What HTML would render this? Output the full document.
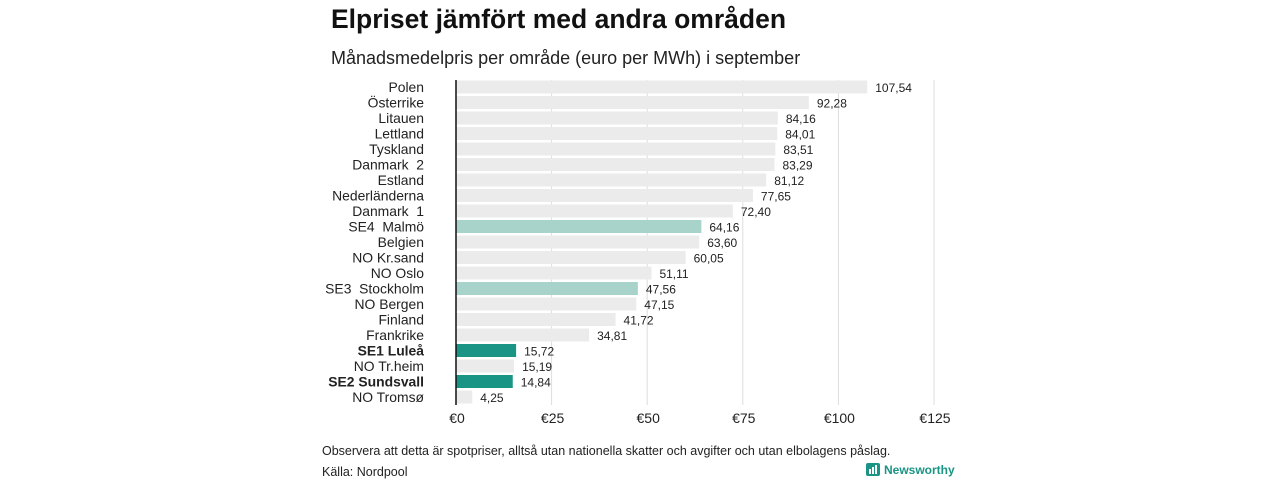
<!DOCTYPE html>
<html><head><meta charset="utf-8"><style>
body{margin:0;background:#fff;width:1280px;height:480px;overflow:hidden;font-family:"Liberation Sans",sans-serif;}
</style></head><body>
<svg width="1280" height="480" xmlns="http://www.w3.org/2000/svg" font-family="Liberation Sans, sans-serif">
<text x="331" y="28" font-size="26.5" font-weight="bold" fill="#111">Elpriset jämfört med andra områden</text>
<text x="331" y="64" font-size="18" fill="#222">Månadsmedelpris per område (euro per MWh) i september</text>
<g id="grid"></g><g id="bars"></g>
<text x="322" y="455" font-size="12.5" fill="#222">Observera att detta är spotpriser, alltså utan nationella skatter och avgifter och utan elbolagens påslag.</text>
<text x="322" y="476" font-size="12.5" fill="#222">Källa: Nordpool</text>
<g>
<rect x="866" y="463" width="14" height="13" rx="2" fill="#1a9485"/>
<rect x="869" y="469" width="2" height="5" fill="#fff"/><rect x="872" y="467" width="2" height="7" fill="#fff"/><rect x="875" y="465" width="2" height="9" fill="#fff"/>
<text x="884" y="474" font-size="12" font-weight="bold" fill="#1a9485">Newsworthy</text>
</g>
</svg>
<script>
const categories=["Polen","Österrike","Litauen","Lettland","Tyskland","Danmark  2","Estland","Nederländerna","Danmark  1","SE4  Malmö","Belgien","NO Kr.sand","NO Oslo","SE3  Stockholm","NO Bergen","Finland","Frankrike","SE1 Luleå","NO Tr.heim","SE2 Sundsvall","NO Tromsø"];
const values=[107.54,92.28,84.16,84.01,83.51,83.29,81.12,77.65,72.40,64.16,63.60,60.05,51.11,47.56,47.15,41.72,34.81,15.72,15.19,14.84,4.25];
const highlight=["none","none","none","none","none","none","none","none","none","light","none","none","none","light","none","none","none","dark","none","dark","none"];
const ticks=[0,25,50,75,100,125];
const NS="http://www.w3.org/2000/svg";
const x=v=>456+v*3.824;
const y=i=>87+i*15.5;
function mk(t,a,p){const e=document.createElementNS(NS,t);for(const k in a)e.setAttribute(k,a[k]);p.appendChild(e);return e;}
const g=document.getElementById('grid'),b=document.getElementById('bars');
ticks.forEach(t=>{
 if(t>0){const l=mk('line',{x1:x(t),x2:x(t),y1:80,y2:405,stroke:'#ddd','stroke-width':1},g);
 
 }
 const tx=mk('text',{x:x(t)+1,y:423,'font-size':14,'text-anchor':'middle',fill:'#222'},g);tx.textContent='€'+t;
 
 
});
categories.forEach((c,i)=>{
 const col=highlight[i]==='dark'?'#1a9485':highlight[i]==='light'?'#a8d3cb':'#ebebeb';
 const r=mk('rect',{x:456,y:y(i)-6.5,width:x(values[i])-456,height:13,fill:col},b);
 
 
 const bold=highlight[i]==='dark';
 const lt=mk('text',{x:424,y:y(i)+5,'font-size':13.9,'text-anchor':'end',fill:'#222','font-weight':bold?'bold':'normal'},b);
 lt.setAttribute('style','white-space:pre');
 lt.textContent=c;
 
 
 const vt=mk('text',{x:x(values[i])+8,y:y(i)+5,'font-size':12,fill:'#222'},b);
 vt.textContent=values[i].toFixed(2).replace('.',',');
 
 
});
const z=mk('line',{x1:456,x2:456,y1:80,y2:405,stroke:'#111','stroke-width':1.5},b);


</script>
</body></html>
